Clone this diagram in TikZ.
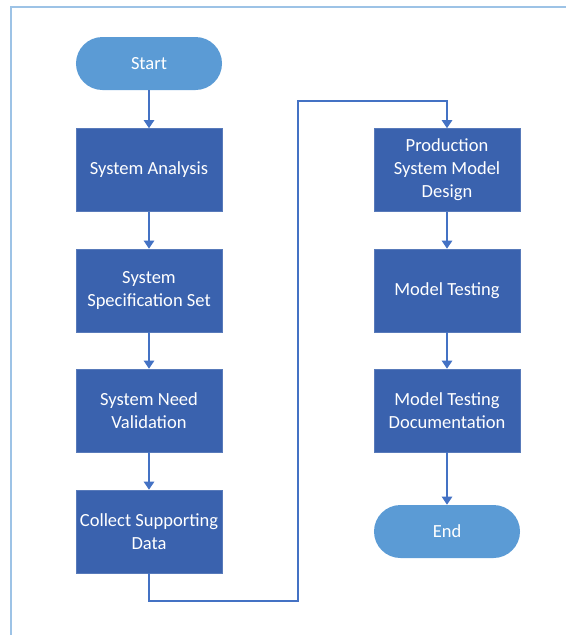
\documentclass[tikz,border=0pt]{standalone}
\usepackage{fontspec}
\setmainfont{Carlito}
\usetikzlibrary{arrows.meta}

\definecolor{boxblue}{HTML}{3A62AE}
\definecolor{termblue}{HTML}{5B9BD5}
\definecolor{lineblue}{HTML}{4472C4}
\definecolor{frameblue}{HTML}{9DC3E6}

\begin{document}
\begin{tikzpicture}[x=0.03cm,y=-0.03cm,
    stepbox/.style={draw=boxblue!85!white,fill=boxblue,text=white,minimum width=4.38cm,minimum height=2.49cm,align=center,inner sep=0pt,font=\fontsize{15.8}{19.5}\selectfont},
    term/.style={fill=termblue,text=white,minimum width=4.38cm,minimum height=1.59cm,rounded corners=0.795cm,inner sep=0pt,font=\fontsize{15.8}{19.5}\selectfont},
    flow/.style={draw=lineblue,line width=1.2pt,-{Triangle[width=9pt,length=7pt]}}]
      \useasboundingbox (0,0) rectangle (566,635);
      \draw [frameblue,line width=1.3pt] (11,635) -- (11,7) -- (566,7);

      \node[term] (start) at (149,63.5) {Start};
      \node[stepbox] (analysis) at (149,170) {System Analysis};
      \node[stepbox] (spec) at (149,290.5) {System\\Specification Set};
      \node[stepbox] (need) at (149,410.5) {System Need\\Validation};
      \node[stepbox] (collect) at (149,531.5) {Collect Supporting\\Data};

      \node[stepbox] (prod) at (447,170) {Production\\System Model\\Design};
      \node[stepbox] (testing) at (447,290.5) {Model Testing};
      \node[stepbox] (docs) at (447,410.5) {Model Testing\\Documentation};
      \node[term] (end) at (447,531.5) {End};

      \coordinate (low) at (298,601);
      \coordinate (high) at (298,101);

      \draw [flow] (start) -- (analysis);
      \draw [flow] (analysis) -- (spec);
      \draw [flow] (spec) -- (need);
      \draw [flow] (need) -- (collect);
      \draw [flow] (collect) |- (low) -- (high) -| (prod);
      \draw [flow] (prod) -- (testing);
      \draw [flow] (testing) -- (docs);
      \draw [flow] (docs) -- (end);

    \end{tikzpicture}
\end{document}
